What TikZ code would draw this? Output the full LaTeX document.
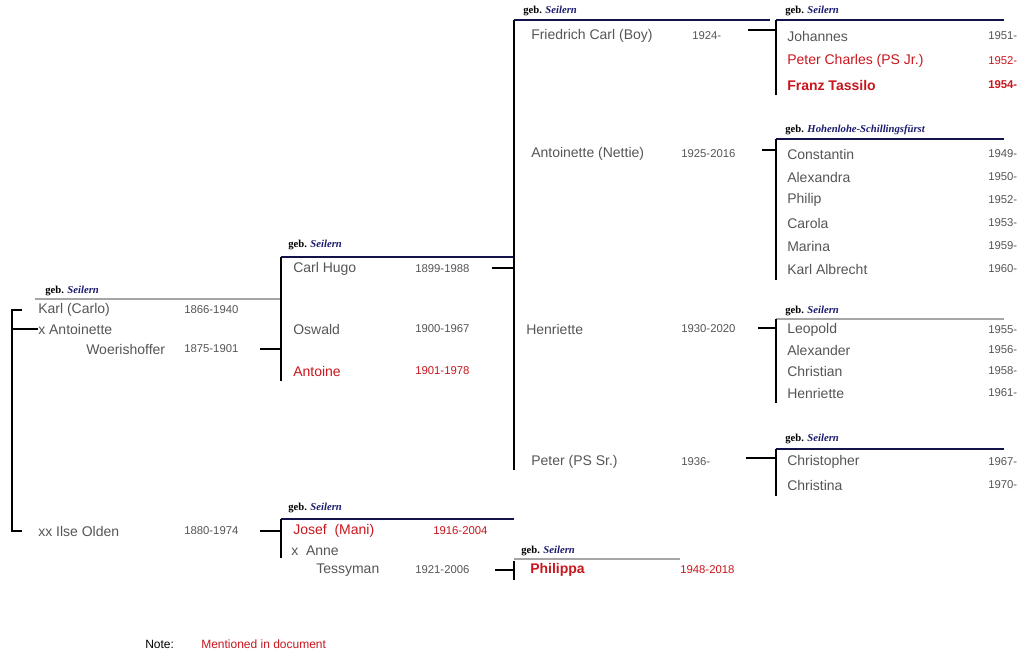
\documentclass[tikz,border=0pt]{standalone}
\usepackage{fontspec}
\setmainfont{Liberation Sans}
\newfontfamily\gebfont{Liberation Serif}
\definecolor{txt}{HTML}{555555}
\definecolor{red1}{HTML}{C8161D}
\definecolor{navy}{HTML}{1A1A6E}
\begin{document}
\begin{tikzpicture}[x=0.75pt,y=-0.75pt,
  nm/.style={anchor=west,inner sep=0pt,text=txt,font=\fontsize{10.5}{12}\selectfont},
  yr/.style={anchor=west,inner sep=0pt,text=txt,font=\fontsize{8.5}{10}\selectfont},
  rnm/.style={nm,text=red1},
  ryr/.style={yr,text=red1},
  geb/.style={anchor=west,inner sep=0pt,font=\gebfont\bfseries\fontsize{8}{9}\selectfont},
  br/.style={line width=1.6pt,black},
  hd/.style={line width=0.8pt,navy!70!black},
  hg/.style={line width=0.8pt,gray!70}]
\useasboundingbox (0,0) rectangle (1024,658);
\newcommand{\gebn}[3]{\node[geb] (#1) at (#2) {geb. \textcolor{navy}{\itshape #3}};}
% generation 1
\gebn{g1}{45,291}{Seilern}
\draw[hg] (35,299) -- (280,299);
\node[nm] (karl) at (38,310) {Karl (Carlo)};
\node[yr] at (184,310) {1866-1940};
\node[nm] (anto) at (38,329) {x Antoinette};
\node[nm] (woer) at (86,349) {Woerishoffer};
\node[yr] (woery) at (184,349) {1875-1901};
\node[nm] (ilse) at (38,531) {xx Ilse Olden};
\node[yr] (ilsey) at (184,531) {1880-1974};
\coordinate (b1t) at (12,310);
\coordinate (b1b) at (12,531);
\draw[br] (22,310) -- (b1t) -- (b1b) -- (22,531);
\draw[br] (b1t|-anto.west) -- (anto.west);
% generation 2 (first marriage)
\gebn{g2}{288,245}{Seilern}
\draw[hd] (281,257) -- (514,257);
\draw[br] (281,257) -- (281,381);
\draw[br] (260,349) -- (281,349);
\node[nm] (ch) at (293,269) {Carl Hugo};
\node[yr] (chy) at (415,269) {1899-1988};
\node[nm] at (293,329) {Oswald};
\node[yr] at (415,329) {1900-1967};
\node[rnm] at (293,371) {Antoine};
\node[ryr] at (415,371) {1901-1978};
% generation 2 (second marriage)
\gebn{g3}{288,508}{Seilern}
\draw[hd] (281,519) -- (514,519);
\draw[br] (281,519) -- (281,558);
\draw[br] (260,531) -- (281,531);
\node[rnm] at (293,531) {Josef\ \ (Mani)};
\node[ryr] at (433,531) {1916-2004};
\node[nm] at (291,551) {x\ \ Anne};
\node[nm] at (316,570) {Tessyman};
\node[yr] at (415,570) {1921-2006};
\draw[br] (495,570) -- (514,570);
\draw[br] (514,561) -- (514,580);
\gebn{g4}{521,551}{Seilern}
\draw[hg] (514,559) -- (680,559);
\node[rnm,font=\bfseries\fontsize{10.5}{12}\selectfont] at (530,570) {Philippa};
\node[ryr] at (680,570) {1948-2018};
% generation 3
\gebn{g5}{523,11}{Seilern}
\draw[hd] (514,20) -- (770,20);
\draw[br] (492,268) -- (514,268);
\draw[br] (514,20) -- (514,470);
\node[nm] at (531,36) {Friedrich Carl (Boy)};
\node[yr] at (692,36) {1924-};
\node[nm] at (531,154) {Antoinette (Nettie)};
\node[yr] at (681,154) {1925-2016};
\node[nm] at (526,329) {Henriette};
\node[yr] at (681,329) {1930-2020};
\node[nm] at (531,462) {Peter (PS Sr.)};
\node[yr] at (681,462) {1936-};
% generation 4
\gebn{h1}{785,11}{Seilern}
\draw[hd] (776,20) -- (1004,20);
\draw[br] (776,20) -- (776,95);
\draw[br] (748,30) -- (776,30);
\node[nm] at (787,36) {Johannes}; \node[yr] at (988,36) {1951-};
\node[rnm] at (787,61) {Peter Charles (PS Jr.)}; \node[ryr] at (988,61) {1952-};
\node[rnm,font=\bfseries\fontsize{10.5}{12}\selectfont] at (787,85) {Franz Tassilo}; \node[ryr,font=\bfseries\fontsize{8.5}{10}\selectfont] at (988,85) {1954-};
\gebn{h2}{785,130}{Hohenlohe-Schillingsfürst}
\draw[hd] (776,139) -- (1004,139);
\draw[br] (776,139) -- (776,280);
\draw[br] (762,150) -- (776,150);
\node[nm] at (787,154) {Constantin}; \node[yr] at (988,154) {1949-};
\node[nm] at (787,177) {Alexandra}; \node[yr] at (988,177) {1950-};
\node[nm] at (787,200) {Philip}; \node[yr] at (988,200) {1952-};
\node[nm] at (787,223) {Carola}; \node[yr] at (988,223) {1953-};
\node[nm] at (787,246) {Marina}; \node[yr] at (988,246) {1959-};
\node[nm] at (787,269) {Karl Albrecht}; \node[yr] at (988,269) {1960-};
\gebn{h3}{785,311}{Seilern}
\draw[hg] (776,319) -- (1004,319);
\draw[br] (776,319) -- (776,403);
\draw[br] (758,328) -- (776,328);
\node[nm] at (787,330) {Leopold}; \node[yr] at (988,330) {1955-};
\node[nm] at (787,350) {Alexander}; \node[yr] at (988,350) {1956-};
\node[nm] at (787,371) {Christian}; \node[yr] at (988,371) {1958-};
\node[nm] at (787,393) {Henriette}; \node[yr] at (988,393) {1961-};
\gebn{h4}{785,439}{Seilern}
\draw[hd] (776,449) -- (1004,449);
\draw[br] (776,449) -- (776,496);
\draw[br] (746,458) -- (776,458);
\node[nm] at (787,462) {Christopher}; \node[yr] at (988,462) {1967-};
\node[nm] at (787,485) {Christina}; \node[yr] at (988,485) {1970-};
% note
\node[anchor=west,inner sep=0pt,font=\fontsize{9}{10}\selectfont] (note) at (145,644) {Note:};
\node[anchor=west,inner sep=0pt,text=red1,font=\fontsize{9}{10}\selectfont] at (201,644) {Mentioned in document};
\end{tikzpicture}
\end{document}
